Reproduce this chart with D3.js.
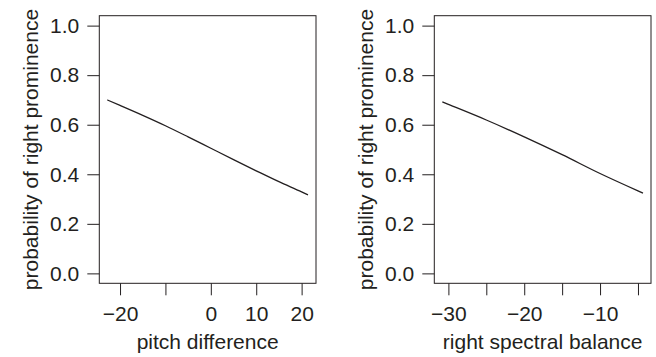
<!DOCTYPE html>
<html>
<head>
<meta charset="utf-8">
<script src="https://cdn.jsdelivr.net/npm/d3@7"></script>
<style>
  body { margin: 0; background: #fff; }
  text { font-family: "Liberation Sans", Arial, sans-serif; fill: #231f20; }
</style>
</head>
<body>
<div id="chart"></div>
<script>
// values (fitted probability curves)
var pitchX = [-22.8, -20, -15, -10, -5, 0, 5, 10, 15, 20, 21.4];
var pitchP = [0.700, 0.678, 0.638, 0.596, 0.551, 0.505, 0.459, 0.414, 0.370, 0.329, 0.317];
var pitchTicks = [-20, -10, 0, 10, 20];
var pitchLabels = ["\u221220", "", "0", "10", "20"];

var specX = [-30.8, -30, -25, -20, -15, -10, -5, -4.34];
var specP = [0.692, 0.682, 0.619, 0.551, 0.479, 0.403, 0.333, 0.324];
var specTicks = [-30, -25, -20, -15, -10, -5];
var specLabels = ["\u221230", "", "\u221220", "", "\u221210", ""];

var yTicks = [0, 0.2, 0.4, 0.6, 0.8, 1.0];
var yLabel = "probability of right prominence";

var W = 656, H = 357;
var ink = "#231f20";

var svg = d3.select("#chart").append("svg")
    .attr("width", W)
    .attr("height", H);

// R style: pad the data range by 4% on each side
function pad(ext) {
  var d = (ext[1] - ext[0]) * 0.04;
  return [ext[0] - d, ext[1] + d];
}

function panel(left, right, xs, ps, ticks, labels, title) {
  var top = 15.7, bottom = 283.3;
  var x = d3.scaleLinear().domain(pad(d3.extent(xs))).range([left, right]);
  var y = d3.scaleLinear().domain(pad([0, 1])).range([bottom, top]);

  var g = svg.append("g");

  // box
  g.append("rect")
      .attr("x", left).attr("y", top)
      .attr("width", right - left).attr("height", bottom - top)
      .attr("fill", "none").attr("stroke", ink).attr("stroke-width", 1);

  var yAxis = g.append("g")
      .attr("transform", "translate(" + left + ",0)")
      .call(d3.axisLeft(y).tickValues(yTicks).tickSize(12).tickPadding(8)
        .tickFormat(d3.format(".1f")));
  var xAxis = g.append("g")
      .attr("transform", "translate(0," + bottom + ")")
      .call(d3.axisBottom(x).tickValues(ticks).tickSize(12).tickPadding(11)
        .tickFormat(function(d, i) { return labels[i]; }));

  [yAxis, xAxis].forEach(function(a) {
    a.select(".domain").remove();
    a.selectAll("line").attr("stroke", ink);
    a.selectAll("text").attr("font-size", 21).attr("font-family", null).attr("fill", ink);
  });

  var line = d3.line()
      .x(function(d, i) { return x(xs[i]); })
      .y(function(d) { return y(d); })
      .curve(d3.curveMonotoneX);

  g.append("path")
      .datum(ps)
      .attr("d", line)
      .attr("fill", "none")
      .attr("stroke", ink)
      .attr("stroke-width", 1.3);

  g.append("text")
      .attr("x", (left + right) / 2)
      .attr("y", 349)
      .attr("text-anchor", "middle")
      .attr("font-size", 21)
      .text(title);

  g.append("text")
      .attr("transform", "translate(" + (left - 61) + "," + ((top + bottom) / 2) + ") rotate(-90)")
      .attr("text-anchor", "middle")
      .attr("font-size", 21)
      .text(yLabel);
}

panel(99.3, 316, pitchX, pitchP, pitchTicks, pitchLabels, "pitch difference");
panel(434.3, 651, specX, specP, specTicks, specLabels, "right spectral balance");
</script>
</body>
</html>
